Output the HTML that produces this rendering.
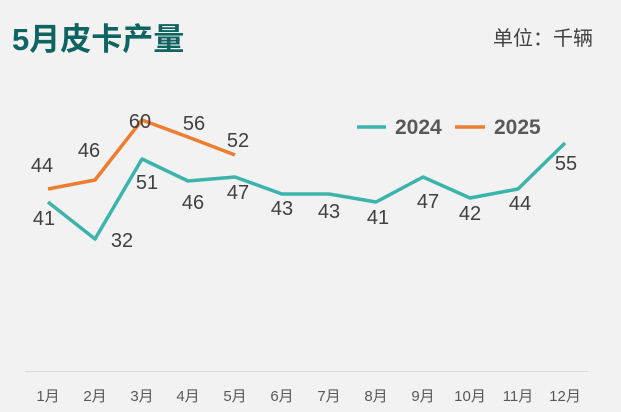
<!DOCTYPE html>
<html><head><meta charset="utf-8"><style>
html,body{margin:0;padding:0;background:#f2f2f2;}
svg{display:block;font-family:"Liberation Sans","Noto Sans CJK SC",sans-serif;}
</style></head><body>
<svg width="621" height="412" viewBox="0 0 621 412" xmlns="http://www.w3.org/2000/svg">
<rect width="621" height="412" fill="#f2f2f2"/>
<text x="12" y="50" font-size="31" font-weight="bold" fill="#0e6460">5月皮卡产量</text>
<text x="593" y="45" font-size="20" fill="#404040" text-anchor="end">单位：千辆</text>
<line x1="25" y1="371.5" x2="588" y2="371.5" stroke="#d9d9d9" stroke-width="1"/>
<g font-size="15" fill="#595959" text-anchor="middle">
<text x="48" y="401">1月</text><text x="95" y="401">2月</text><text x="142" y="401">3月</text>
<text x="188" y="401">4月</text><text x="235" y="401">5月</text><text x="282" y="401">6月</text>
<text x="329" y="401">7月</text><text x="376" y="401">8月</text><text x="423" y="401">9月</text>
<text x="470" y="401">10月</text><text x="518" y="401">11月</text><text x="565" y="401">12月</text>
</g>
<polyline fill="none" stroke="#3cb4ac" stroke-width="3.5" stroke-linejoin="round" points="48,202 95,239 142,159 188,181 235,177 282,194 329,194 376,202 423,177 470,198 518,189 565,143"/>
<polyline fill="none" stroke="#ed7d31" stroke-width="3.5" stroke-linejoin="round" points="48,189 95,180 142,120 188,137 235,155"/>
<g font-size="20" fill="#404040" text-anchor="middle">
<text x="44" y="225">41</text><text x="122" y="247">32</text><text x="147" y="189">51</text>
<text x="193" y="209">46</text><text x="238" y="199">47</text><text x="282" y="215">43</text>
<text x="329" y="218">43</text><text x="378" y="224">41</text><text x="428" y="208">47</text>
<text x="470" y="220">42</text><text x="520" y="210">44</text><text x="566" y="170">55</text>
<text x="42" y="172">44</text><text x="89" y="157">46</text><text x="140" y="128">60</text>
<text x="194" y="130">56</text><text x="238" y="147">52</text>
</g>
<line x1="357" y1="127" x2="386" y2="127" stroke="#3cb4ac" stroke-width="3.5"/>
<text x="395" y="134" font-size="21" font-weight="bold" fill="#595959">2024</text>
<line x1="455" y1="127" x2="485" y2="127" stroke="#ed7d31" stroke-width="3.5"/>
<text x="494" y="134" font-size="21" font-weight="bold" fill="#595959">2025</text>
</svg>
</body></html>
